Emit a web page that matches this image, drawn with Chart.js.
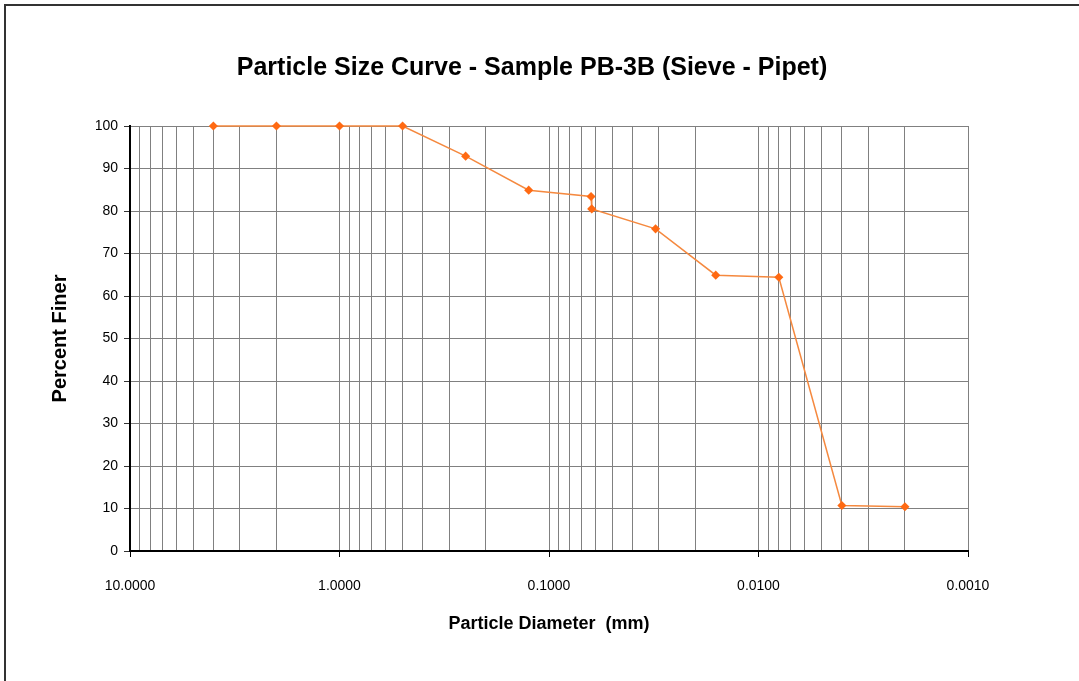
<!DOCTYPE html>
<html>
<head>
<meta charset="utf-8">
<script src="https://cdn.jsdelivr.net/npm/chart.js@4.4.1/dist/chart.umd.min.js"></script>
<style>
html,body{margin:0;padding:0;background:#fff;}
#wrap{width:1079px;height:681px;position:relative;}
</style>
</head>
<body>
<div id="wrap"><canvas id="c" width="1079" height="681"></canvas></div>
<script>
// ---- data ----
const chartTitle = 'Particle Size Curve - Sample PB-3B (Sieve - Pipet)';
const xTitle = 'Particle Diameter  (mm)';
const yTitle = 'Percent Finer';
const diameterMm = [4.0, 2.0, 1.0, 0.5, 0.25, 0.125, 0.063, 0.0625, 0.031, 0.016, 0.008, 0.004, 0.002];
const percentFiner = [100, 100, 100, 100, 92.9, 84.9, 83.4, 80.5, 75.8, 64.9, 64.4, 10.7, 10.4];
const xDecades = [10, 1, 0.1, 0.01, 0.001];
const xDecadeLabels = ['10.0000', '1.0000', '0.1000', '0.0100', '0.0010'];
const yTicks = [0, 10, 20, 30, 40, 50, 60, 70, 80, 90, 100];

const points = diameterMm.map((d, i) => ({x: d, y: percentFiner[i]}));

// all log grid values 1..9 x 10^n between 0.001 and 10
const xGridValues = [];
for (let e = -3; e <= 0; e++) {
  for (let k = 1; k <= 9; k++) xGridValues.push(+(k * Math.pow(10, e)).toPrecision(6));
}
xGridValues.push(10);

function isDecade(v) {
  return xDecades.some(d => Math.abs(d - v) / d < 1e-6);
}
function decadeLabel(v) {
  const i = xDecades.findIndex(d => Math.abs(d - v) / d < 1e-6);
  return i >= 0 ? xDecadeLabels[i] : '';
}

const framePlugin = {
  id: 'frame',
  beforeDraw(chart) {
    const ctx = chart.ctx;
    ctx.save();
    ctx.fillStyle = '#fff';
    ctx.fillRect(0, 0, chart.width, chart.height);
    ctx.strokeStyle = '#333';
    ctx.lineWidth = 2;
    ctx.beginPath();
    ctx.moveTo(5, chart.height);
    ctx.lineTo(5, 5);
    ctx.lineTo(chart.width, 5);
    ctx.stroke();
    ctx.restore();
  }
};

Chart.defaults.font.family = 'Arial, "Liberation Sans", sans-serif';
Chart.defaults.color = '#000';

new Chart(document.getElementById('c'), {
  type: 'line',
  data: {
    datasets: [{
      data: points,
      borderColor: '#F5893F',
      borderWidth: 1.5,
      backgroundColor: '#FF6A13',
      pointBackgroundColor: '#FF6A13',
      pointBorderColor: '#FF6A13',
      pointStyle: 'rectRot',
      pointRadius: 3.5,
      tension: 0,
      fill: false,
      clip: false
    }]
  },
  options: {
    responsive: false,
    animation: false,
    layout: {padding: {left: 96, right: 111, top: 0, bottom: 0}},
    plugins: {
      legend: {display: false},
      tooltip: {enabled: false},
      title: {
        display: true,
        text: chartTitle,
        color: '#000',
        font: {size: 25, weight: 'bold', lineHeight: 1.2},
        padding: {top: 53, bottom: 43}
      }
    },
    scales: {
      x: {
        type: 'logarithmic',
        reverse: true,
        min: 0.001,
        max: 10,
        afterBuildTicks(scale) {
          scale.ticks = xGridValues.map(v => ({value: v, major: isDecade(v)}));
        },
        afterFit(scale) { scale.height = 130; },
        ticks: {
          autoSkip: false,
          maxRotation: 0,
          padding: 21,
          font: {size: 14},
          callback: (v) => decadeLabel(v)
        },
        grid: {
          color: '#808080',
          lineWidth: 1,
          tickLength: 6,
          tickColor: (c) => (c.tick && isDecade(c.tick.value)) ? '#000' : 'rgba(0,0,0,0)'
        },
        border: {color: '#000', width: 2},
        title: {
          display: true,
          text: xTitle,
          font: {size: 18, weight: 'bold', lineHeight: 1.2},
          padding: {top: 0, bottom: 46}
        }
      },
      y: {
        type: 'linear',
        min: 0,
        max: 100,
        afterBuildTicks(scale) {
          scale.ticks = yTicks.map(v => ({value: v}));
        },
        afterFit(scale) { scale.width = 34; },
        ticks: {
          padding: 6,
          font: {size: 14},
          callback: (v) => String(v)
        },
        grid: {
          color: '#808080',
          lineWidth: 1,
          tickLength: 6,
          tickColor: '#333'
        },
        border: {color: '#000', width: 2},
        title: {
          display: true,
          text: yTitle,
          font: {size: 20, weight: 'bold', lineHeight: 1.2},
          padding: {top: -48, bottom: 0}
        }
      }
    }
  },
  plugins: [framePlugin]
});
</script>
</body>
</html>
